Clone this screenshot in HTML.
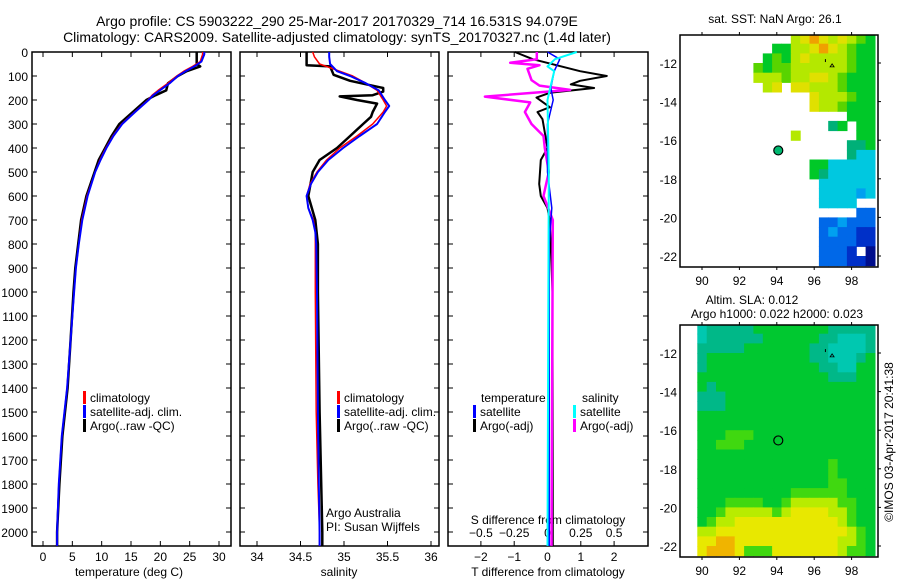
<!DOCTYPE html>
<html><head><meta charset="utf-8">
<style>
html,body{margin:0;padding:0;background:#fff;}
svg{display:block;font-family:"Liberation Sans",sans-serif;}
text{fill:#000;}
</style></head>
<body>
<svg id="fig" width="900" height="580" viewBox="0 0 900 580" xmlns="http://www.w3.org/2000/svg">
<text x="337" y="26" font-size="14" text-anchor="middle">Argo profile: CS 5903222_290 25-Mar-2017 20170329_714 16.531S 94.079E</text>
<text x="337" y="42" font-size="14" text-anchor="middle">Climatology: CARS2009. Satellite-adjusted climatology: synTS_20170327.nc (1.4d later)</text>
<text x="775" y="23" font-size="12" text-anchor="middle">sat. SST: NaN Argo: 26.1</text>
<text x="752" y="304" font-size="12" text-anchor="middle">Altim. SLA: 0.012</text>
<text x="777" y="318" font-size="12" text-anchor="middle">Argo h1000: 0.022 h2000: 0.023</text>
<text x="0" y="0" font-size="12" text-anchor="middle" transform="translate(893,442) rotate(-90)">©IMOS 03-Apr-2017 20:41:38</text>
</svg>
<script>
// ---------- data ----------
const tDepthClim = [0,10,40,60,80,100,130,160,180,200,250,300,350,400,450,500,600,700,800,900,1000,1200,1400,1600,1800,2000,2058];
const tClim = [27.2,27.2,26.8,25.5,24.0,22.8,21.3,19.6,18.6,17.9,15.6,13.4,11.9,10.7,9.7,8.9,7.5,6.6,6.1,5.6,5.3,4.7,4.1,3.2,2.7,2.4,2.4];
const tSat = [27.5,27.5,27.0,25.8,24.3,23.0,21.6,19.9,18.8,18.0,15.7,13.5,12.0,10.8,9.8,8.9,7.6,6.7,6.1,5.6,5.3,4.7,4.1,3.2,2.7,2.4,2.4];
const tDepthArgo = [0,50,60,80,100,130,160,180,200,250,300,350,400,450,500,600,700,800,900,1000,1200,1400,1600,1800,2000,2058];
const tArgo = [26.2,26.2,26.8,24.5,23.0,21.3,21.0,19.2,17.6,15.3,13.0,11.7,10.6,9.5,8.8,7.4,6.5,6.0,5.5,5.2,4.7,4.2,3.3,2.8,2.4,2.4];

const sDepthClim = [0,20,50,80,100,130,160,200,225,250,300,350,400,450,500,550,600,650,700,750,800,1000,1500,1800,2000,2058];
const sClim = [34.64,34.66,34.72,34.95,35.1,35.25,35.38,35.45,35.49,35.45,35.33,35.15,34.95,34.8,34.69,34.61,34.57,34.59,34.65,34.67,34.67,34.67,34.68,34.70,34.72,34.72];
const sSat = [34.83,34.83,34.84,34.92,35.07,35.25,35.4,35.47,35.52,35.47,35.38,35.18,34.99,34.82,34.70,34.62,34.57,34.59,34.64,34.67,34.68,34.69,34.70,34.71,34.72,34.72];
const sDepthArgo = [0,55,60,95,120,150,165,180,185,200,215,250,270,300,350,400,450,500,600,700,800,1000,1500,2000,2058];
const sArgo = [34.57,34.57,34.84,34.88,35.07,35.45,35.45,35.33,34.95,35.15,35.38,35.33,35.31,35.22,35.07,34.92,34.72,34.64,34.59,34.67,34.70,34.70,34.72,34.75,34.75];

const dTArgoDepth = [0,30,80,100,120,135,150,170,190,230,250,280,400,450,550,600,650,700,1000,2058];
const dTArgo = [-0.98,-0.44,0.98,1.78,0.98,0.7,1.4,0.07,-0.33,0.07,-0.3,-0.15,0,-0.2,-0.25,-0.2,0,0.07,0.15,0.16];
const dTSatDepth = [0,30,80,150,200,300,500,650,800,2058];
const dTSat = [0,0.37,0.2,0.1,0.17,0,0,0.13,0.05,0.05];
const dSSatDepth = [0,30,60,80,150,200,500,2058];
const dSSat = [0.22,0.056,0,0.05,0.02,0,0.01,0.0];
const dSArgoDepth = [0,30,45,55,70,117,140,158,186,210,250,300,350,400,500,600,700,2058];
const dSArgo = [-0.08,-0.08,-0.28,-0.06,-0.15,-0.12,-0.06,0.17,-0.47,-0.13,-0.17,-0.12,-0.03,-0.02,0.01,-0.03,0.04,0.03];

const depthTicks = [0,100,200,300,400,500,600,700,800,900,1000,1100,1200,1300,1400,1500,1600,1700,1800,1900,2000];
const tempTicks = [0,5,10,15,20,25,30];
const salTicks = ["34","34.5","35","35.5","36"];
const tDiffTicks = [-2,-1,0,1,2];
const sDiffTicks = ["-0.5","-0.25","0","0.25","0.5"];
const lonTicks = [90,92,94,96,98];
const latTicks = [12,14,16,18,20,22];

// SST map grid: rows lat 10.75..22.25 step 0.5; cols lon 93..99 step 0.5
const sstRows = [
"    89A989876",
"  66889A98766",
" 676898888766",
"7677888888766",
"8887889987666",
" 89 998887666",
"      9888766",
"      9887666",
"          666",
"        56 66",
"    8      66",
"          556",
"          544",
"      6644444",
"      6544444",
"       444444",
"       444434",
"       4444  ",
"           22",
"       223222",
"       232211",
"       222211",
"       2221 0",
"       222110"];
// SLA map grid: rows lat 10.75..22.25; cols lon 90..99 step 0.5
const slaRows = [
"4555556666666655555",
"4555555666666554445",
"5555566666665544445",
"5666666666665544456",
"5666666666666554466",
"6666666666666655566",
"6566666666666666666",
"5556666666666666666",
"5556666666666666666",
"6666666666666666666",
"6666666666666666666",
"6667776666666666666",
"6677766666666666666",
"6666666666666666666",
"6666666666666676666",
"6666666666666676666",
"6666666666666677666",
"6666666666777777666",
"6667777667888887766",
"6678888878999988766",
"6788999999999998766",
"8899999999999999876",
"99AA999999999998876",
"9AAA977799999998776"];
const argoLon = 94.079, argoLat = 16.531;

// ---------- helpers ----------
const NS = "http://www.w3.org/2000/svg";
const svg = document.getElementById('fig');
function mk(tag, attrs, parent){
  const e = document.createElementNS(NS, tag);
  for (const k in attrs) e.setAttribute(k, attrs[k]);
  (parent||svg).appendChild(e);
  return e;
}
function txt(x,y,s,size,anchor,parent){
  const t = mk('text',{x:x,y:y,'font-size':size,'text-anchor':anchor||'middle'},parent);
  t.textContent = s; return t;
}
const y0 = 52, yScale = 0.24;
const yD = d => y0 + d*yScale;
const PB = 546;

function panel(x1,x2,name){
  const g = mk('g',{});
  
  
  const r = mk('rect',{x:x1,y:y0,width:x2-x1,height:PB-y0,fill:'none',stroke:'#000','stroke-width':1.5},g);
  
  
  depthTicks.forEach(d=>{
    const y=yD(d);
    mk('line',{x1:x1,x2:x1+5,y1:y,y2:y,stroke:'#000'},g);
    mk('line',{x1:x2-5,x2:x2,y1:y,y2:y,stroke:'#000'},g);
  });
  return g;
}
function line(g, xs, ds, xf, color, w, name, dash){
  const pts = xs.map((v,i)=> xf(v).toFixed(1)+','+yD(ds[i]).toFixed(1)).join(' ');
  const p = mk('polyline',{points:pts,fill:'none',stroke:color,'stroke-width':w,'stroke-linejoin':'round'},g);
  if (dash) p.setAttribute('stroke-dasharray', dash);
  
  
}
function legendItem(g,x,y,color,label,name){
  const gi = mk('g',{},g);
  
  
  mk('rect',{x:x,y:y-11,width:3,height:13,fill:color},gi);
  txt(x+7,y,label,12,'start',gi);
}

// ---------- panel 1: temperature ----------
const xT = v => 43 + v*5.867;
const g1 = panel(32,231,'temperature-panel');
depthTicks.forEach(d=>{ txt(28,yD(d)+5,String(d),12,'end',g1); });
tempTicks.forEach(v=>{
  const x=xT(v);
  mk('line',{x1:x,x2:x,y1:y0,y2:y0+5,stroke:'#000'},g1);
  mk('line',{x1:x,x2:x,y1:PB-5,y2:PB,stroke:'#000'},g1);
  txt(x,561,String(v),12,'middle',g1);
});
const tl = txt(129,576,'temperature (deg C)',12,'middle',g1);


line(g1,tArgo,tDepthArgo,xT,'#000',2.5,'argo-temperature-line');
line(g1,tClim,tDepthClim,xT,'#f00',1.5,'climatology-temperature-line');
line(g1,tSat,tDepthClim,xT,'#00f',2,'satellite-temperature-line');
legendItem(g1,83,402,'#f00','climatology','legend-climatology');
legendItem(g1,83,416,'#00f','satellite-adj. clim.','legend-satellite');
legendItem(g1,83,430,'#000','Argo(..raw -QC)','legend-argo');

// ---------- panel 2: salinity ----------
const xS = v => 257 + (v-34)*87;
const g2 = panel(240,439,'salinity-panel');
salTicks.forEach(s=>{
  const x=xS(parseFloat(s));
  mk('line',{x1:x,x2:x,y1:y0,y2:y0+5,stroke:'#000'},g2);
  mk('line',{x1:x,x2:x,y1:PB-5,y2:PB,stroke:'#000'},g2);
  txt(x,561,s,12,'middle',g2);
});
const sl = txt(339,576,'salinity',12,'middle',g2);


line(g2,sArgo,sDepthArgo,xS,'#000',2.5,'argo-salinity-line');
line(g2,sClim,sDepthClim,xS,'#f00',1.5,'climatology-salinity-line');
line(g2,sSat,sDepthClim,xS,'#00f',2,'satellite-salinity-line');
legendItem(g2,337,402,'#f00','climatology','legend-climatology-2');
legendItem(g2,337,416,'#00f','satellite-adj. clim.','legend-satellite-2');
legendItem(g2,337,430,'#000','Argo(..raw -QC)','legend-argo-2');
mk('rect',{x:321,y:506,width:2,height:26,fill:'#000'},g2);
txt(326,517,'Argo Australia',12,'start',g2);
txt(326,531,'PI: Susan Wijffels',12,'start',g2);

// ---------- panel 3: differences ----------
const xDT = v => 547.5 + v*33.3;
const xDS = v => 547.5 + v*133.2;
const g3 = panel(448,648,'difference-panel');
tDiffTicks.forEach(v=>{
  const x=xDT(v);
  mk('line',{x1:x,x2:x,y1:PB-5,y2:PB,stroke:'#000'},g3);
  mk('line',{x1:x,x2:x,y1:y0,y2:y0+5,stroke:'#000'},g3);
  txt(x,561,String(v).replace('-','\u2212'),12,'middle',g3);
});
sDiffTicks.forEach(s=>{
  txt(xDS(parseFloat(s)),537,s.replace('-','\u2212'),12,'middle',g3);
});
txt(548,524,'S difference from climatology',12,'middle',g3);
const dl = txt(548,576,'T difference from climatology',12,'middle',g3);


line(g3,dTArgo,dTArgoDepth,xDT,'#000',2,'argo-t-diff-line');
line(g3,dSArgo,dSArgoDepth,xDS,'#f0f',2.5,'argo-s-diff-line');
line(g3,dTSat,dTSatDepth,xDT,'#00f',1.5,'satellite-t-diff-line');
line(g3,dSSat,dSSatDepth,xDS,'#0ff',2,'satellite-s-diff-line');
txt(481,402,'temperature',12,'start',g3);
txt(582,402,'salinity',12,'start',g3);
legendItem(g3,473,416,'#00f','satellite','legend-t-satellite');
legendItem(g3,473,430,'#000','Argo(-adj)','legend-t-argo');
legendItem(g3,573,416,'#0ff','satellite','legend-s-satellite');
legendItem(g3,573,430,'#f0f','Argo(-adj)','legend-s-argo');

// ---------- maps ----------
const sstColors = {'0':'#000e8c','1':'#0030c8','2':'#0068e8','3':'#00a0f0','4':'#00c8e0','5':'#00b078','6':'#00c828','7':'#58d400','8':'#b4e800','9':'#e0e000','A':'#f0a000'};
const slaColors = {'4':'#00c8b0','5':'#00b888','6':'#00c830','7':'#40d810','8':'#b8ec00','9':'#e8e800','A':'#f0b400'};
function mapPanel(top, bottom, name, rows, lonStart, colors, fillDot){
  const x1=680, x2=878;
  const lat12y = top+28;
  const mx = lon => 702 + (lon-90)*18.7;
  const my = lat => lat12y + (lat-12)*19.3;
  const g = mk('g',{});
  
  
  const clip = mk('clipPath',{id:name+'-clip'},g);
  mk('rect',{x:x1,y:top,width:x2-x1,height:bottom-top},clip);
  const cells = mk('g',{'clip-path':'url(#'+name+'-clip)'},g);
  rows.forEach((row,ri)=>{
    const lat = 10.75 + ri*0.5;
    for (let ci=0; ci<row.length; ci++){
      const c=row[ci]; if (c===' ') continue;
      const lon = lonStart + ci*0.5;
      const r = mk('rect',{x:(mx(lon-0.25)).toFixed(1),y:(my(lat-0.25)).toFixed(1),width:9.9,height:10.2,fill:colors[c]},cells);
      
      
    }
  });
  mk('rect',{x:x1,y:top,width:x2-x1,height:bottom-top,fill:'none',stroke:'#000','stroke-width':1.5},g);
  lonTicks.forEach(v=>{
    const x=mx(v);
    mk('line',{x1:x,x2:x,y1:top-3,y2:top,stroke:'#000'},g);
    mk('line',{x1:x,x2:x,y1:bottom,y2:bottom+3,stroke:'#000'},g);
    txt(x,bottom+18,String(v),12,'middle',g);
  });
  latTicks.forEach(v=>{
    const y=my(v);
    mk('line',{x1:x2,x2:x2+3,y1:y,y2:y,stroke:'#000'},g);
    txt(x1-3,y+5,'-'+v,12,'end',g);
  });
  mk('line',{x1:mx(96.6),x2:mx(96.6),y1:my(11.8),y2:my(11.95),stroke:'#000'},g);
  mk('path',{d:'M'+mx(96.85)+' '+my(12.2)+' l2 -3 l2 3 z',fill:'none',stroke:'#000','stroke-width':0.8},g);
  const dot = mk('circle',{cx:mx(argoLon),cy:my(argoLat),r:4.5,fill:fillDot?'#00b870':'none',stroke:'#000','stroke-width':1.2},g);
  
  
}
mapPanel(35,267,'sst-map',sstRows,93,sstColors,true);
mapPanel(325,557,'sla-map',slaRows,90,slaColors,false);
</script>
</body></html>
